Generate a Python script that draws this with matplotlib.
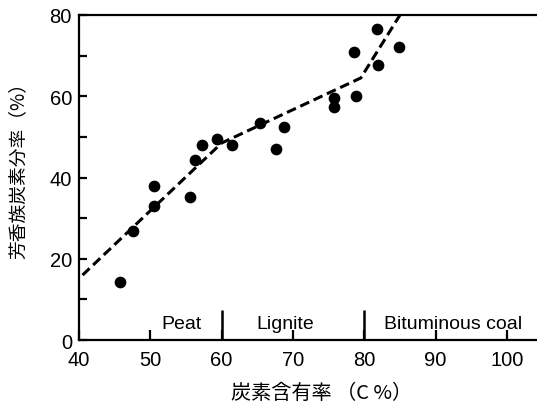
import matplotlib
matplotlib.use("Agg")
import matplotlib.pyplot as plt

carbon = [45.8, 47.6, 50.5, 50.5, 55.6, 56.3, 57.2, 59.3, 61.5, 65.4, 67.6, 68.8,
          75.7, 75.7, 78.6, 78.8, 81.8, 81.9, 84.9]
aromatic = [14.2, 26.9, 37.8, 32.9, 35.1, 44.4, 48.1, 49.6, 48.1, 53.4, 47.1, 52.4,
            59.5, 57.3, 70.8, 60.1, 76.6, 67.6, 72.2]
trend_x = [40.5, 60.0, 79.5, 85.0]
trend_y = [16.0, 48.5, 64.5, 80.0]
regions = ["Peat", "Lignite", "Bituminous coal"]
region_x = [54.4, 68.9, 92.4]
dividers = [60, 80]
xticks = [40, 50, 60, 70, 80, 90, 100]
yticks = [0, 20, 40, 60, 80]

plt.rcParams['font.family'] = ['Liberation Sans', 'DejaVu Sans']
fig = plt.figure(figsize=(5.37, 4.10), dpi=100)
ax = fig.add_axes([0.147, 0.168, 0.853, 0.793])

ax.plot(trend_x, trend_y, color='black', lw=2.2, ls=(0, (3.2, 1.6)), zorder=2)
ax.scatter(carbon, aromatic, s=55, color='black', zorder=3)

ax.set_xlim(40, 104.2)
ax.set_ylim(0, 80)
ax.set_xticks(xticks)
ax.set_yticks(yticks)
ax.set_yticks([10, 30, 50, 70], minor=True)
ax.tick_params(axis='both', which='both', direction='in', width=1.6, labelsize=14.5)
ax.tick_params(axis='y', which='both', length=6, pad=5)
ax.tick_params(axis='x', which='major', length=7, pad=7)
for s in ['left', 'bottom', 'top']:
    ax.spines[s].set_linewidth(1.6)
ax.spines['right'].set_visible(False)

ax.vlines(dividers, 0, 7.5, color='black', lw=1.8)
for name, x in zip(regions, region_x):
    ax.text(x, 3.0, name, ha='center', va='baseline', fontsize=14)

cjk = ['Noto Sans CJK JP', 'DejaVu Sans']
ax.set_xlabel('炭素含有率 （C %）', family=cjk, fontsize=14.5)
ax.set_ylabel('芳香族炭素分率（%）', family=cjk, fontsize=13.5)
ax.xaxis.set_label_coords(0.53, -0.13)
ax.yaxis.set_label_coords(-0.11, 0.54)

fig.savefig('out.png', dpi=100)
